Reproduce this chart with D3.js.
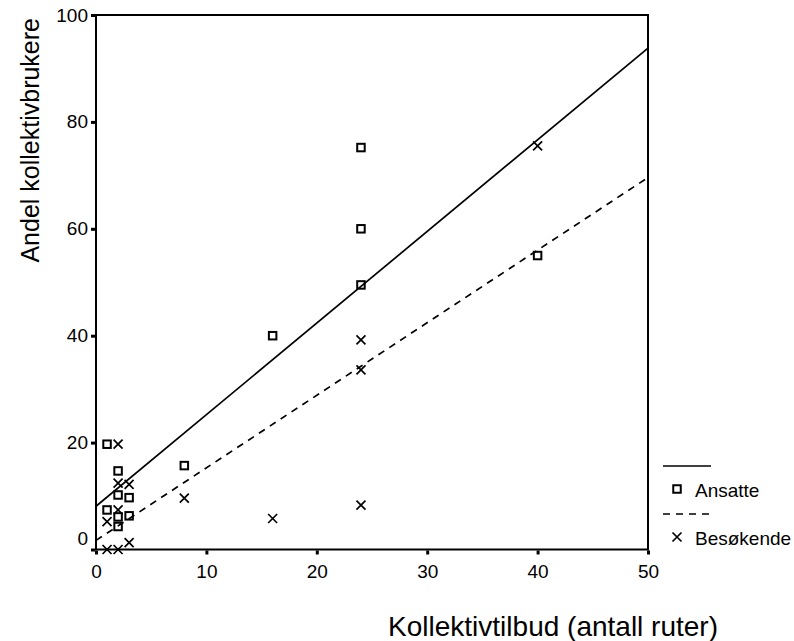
<!DOCTYPE html>
<html>
<head>
<meta charset="utf-8">
<script src="https://cdn.jsdelivr.net/npm/d3@7"></script>
<style>
  html, body { margin: 0; padding: 0; background: #fff; }
  svg { display: block; font-family: Arial, "Liberation Sans", Helvetica, sans-serif; }
</style>
</head>
<body>
<svg id="chart" width="794" height="641"></svg>
<script>
// Number of routes offered (x) and share of public-transport users (y), per workplace
const ansatteX = [1, 2, 2, 3, 1, 3, 2, 2, 8, 16, 24, 24, 24, 40];
const ansatteY = [19.7, 14.7, 10.2, 9.7, 7.4, 6.3, 6.1, 4.3, 15.7, 40, 75.2, 60, 49.5, 55];
const besokendeX = [2, 2, 3, 2, 1, 3, 1, 2, 8, 16, 24, 24, 24, 40];
const besokendeY = [19.7, 12.4, 12.2, 7.4, 5.2, 1.3, 0, 0, 9.6, 5.8, 39.2, 33.6, 8.3, 75.5];

const xTicks = [0, 10, 20, 30, 40, 50];
const yTicks = [0, 20, 40, 60, 80, 100];
const seriesNames = ["Ansatte", "Besøkende"];

const svg = d3.select("#chart");
const x = d3.scaleLinear().domain([0, 50]).range([96, 648]);
const y = d3.scaleLinear().domain([0, 100]).range([549.5, 15]);

// Least-squares fit for a series
function fit(xs, ys) {
  const mx = d3.mean(xs), my = d3.mean(ys);
  let sxy = 0, sxx = 0;
  xs.forEach((v, i) => { sxy += (v - mx) * (ys[i] - my); sxx += (v - mx) * (v - mx); });
  const b = sxy / sxx;
  return { a: my - b * mx, b };
}

// Axes
const xAxis = d3.axisBottom(x).tickValues(xTicks).tickSize(4).tickPadding(10);
const yAxis = d3.axisLeft(y).tickValues(yTicks).tickSize(4).tickPadding(3);

const gx = svg.append("g").attr("transform", `translate(0,${y(0) + 1})`).call(xAxis);
const gy = svg.append("g").attr("transform", `translate(${x(0) - 1},0)`).call(yAxis);
[gx, gy].forEach(g => {
  g.select(".domain").remove();
  g.selectAll(".tick line").attr("stroke", "#000").attr("stroke-width", 3);
  g.selectAll(".tick text").attr("fill", "#000").attr("font-size", 19)
    .attr("font-family", "Arial, 'Liberation Sans', sans-serif");
});
gy.selectAll(".tick").filter(d => d === 0).select("text").attr("dy", "-0.26em");

// Frame
svg.append("rect")
  .attr("x", x(0)).attr("y", y(100))
  .attr("width", x(50) - x(0)).attr("height", y(0) - y(100))
  .attr("fill", "none").attr("stroke", "#000").attr("stroke-width", 2);

// Fit lines
const line = d3.line().x(d => x(d[0])).y(d => y(d[1]));
const fits = [fit(ansatteX, ansatteY), fit(besokendeX, besokendeY)];
const dashes = [null, "7,6"];
fits.forEach((f, i) => {
  svg.append("path")
    .datum([[0, f.a], [50, f.a + 50 * f.b]])
    .attr("d", line)
    .attr("fill", "none").attr("stroke", "#000").attr("stroke-width", 1.7)
    .attr("stroke-dasharray", dashes[i]);
});

// Markers
const sq = 7.5, cr = 4.5;
function square(g, cx, cy) {
  g.append("rect").attr("x", cx - sq / 2).attr("y", cy - sq / 2)
    .attr("width", sq).attr("height", sq)
    .attr("fill", "none").attr("stroke", "#000").attr("stroke-width", 2);
}
function cross(g, cx, cy) {
  g.append("path")
    .attr("d", `M${cx - cr},${cy - cr}L${cx + cr},${cy + cr}M${cx - cr},${cy + cr}L${cx + cr},${cy - cr}`)
    .attr("stroke", "#000").attr("stroke-width", 1.7).attr("fill", "none");
}
const pts = svg.append("g");
ansatteX.forEach((v, i) => square(pts, x(v), y(ansatteY[i])));
besokendeX.forEach((v, i) => cross(pts, x(v), y(besokendeY[i])));

// Axis titles
svg.append("text")
  .attr("x", 718).attr("y", 636).attr("text-anchor", "end")
  .attr("font-size", 28).text("Kollektivtilbud (antall ruter)");
svg.append("text")
  .attr("transform", "translate(39,18) rotate(-90)").attr("text-anchor", "end")
  .attr("font-size", 25).text("Andel kollektivbrukere");

// Legend
const lg = svg.append("g");
lg.append("line").attr("x1", 663).attr("x2", 711).attr("y1", 466).attr("y2", 466)
  .attr("stroke", "#000").attr("stroke-width", 1.7);
square(lg, 677, 489);
lg.append("text").attr("x", 695).attr("y", 497).attr("font-size", 19).text(seriesNames[0]);
lg.append("line").attr("x1", 663).attr("x2", 711).attr("y1", 514).attr("y2", 514)
  .attr("stroke", "#000").attr("stroke-width", 1.7).attr("stroke-dasharray", "7,6");
cross(lg, 677, 537);
lg.append("text").attr("x", 695).attr("y", 545).attr("font-size", 19).text(seriesNames[1]);
</script>
</body>
</html>
